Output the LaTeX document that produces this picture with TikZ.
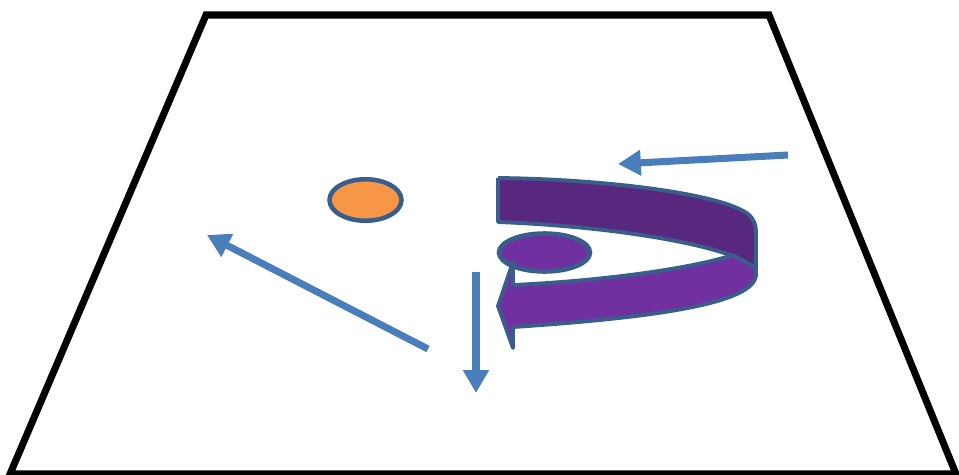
\documentclass[tikz,border=0pt]{standalone}
\usepackage{xcolor}
\usepackage{tikz}
\usetikzlibrary{positioning, arrows.meta, shapes, calc}

\definecolor{edgeblue}{RGB}{58,94,140}
\definecolor{arrowblue}{RGB}{74,126,187}
\definecolor{spotorange}{RGB}{247,150,70}
\definecolor{ribbonlight}{RGB}{112,48,160}
\definecolor{ribbondark}{RGB}{88,40,126}

\begin{document}
\begin{tikzpicture}[
        x=0.02cm, y=-0.02cm,
        spot/.style={ellipse, draw=edgeblue, line width=2.6pt, inner sep=0pt},
        move/.style={draw=arrowblue, line width=4pt, -{Triangle[length=13pt, width=14pt]}},
        ribbon/.style={draw=edgeblue, line width=2.2pt, line join=round}
    ]
    \useasboundingbox (0,0) rectangle (959,474);

    % floor plane
    \draw[line width=4pt, line join=miter] (206,15) -- (769,15) -- (956,474) -- (10,474) -- cycle;

    % spots on the floor
    \node[spot, fill=spotorange, minimum width=1.44cm, minimum height=0.83cm] (ball) at (365.5,200) {};
    \node[spot, fill=ribbonlight, minimum width=1.82cm, minimum height=0.76cm] (puck) at (544.5,252.5) {};

    % curved ribbon arrow, back part then front part
    \fill[ribbondark] (498,178) .. controls (600,179) and (720,193) .. (748,214)
        .. controls (754,219) and (756,225) .. (756,232) -- (756,272) -- (733,256)
        .. controls (690,240) and (600,226) .. (498,222) -- cycle;
    \draw[ribbon] (498,178) .. controls (600,179) and (720,193) .. (748,214)
        .. controls (754,219) and (756,225) .. (756,232) -- (756,272);
    \draw[ribbon] (733,256) .. controls (690,240) and (600,226) .. (498,222) -- (498,178);
    \draw[ribbon, fill=ribbonlight] (513,285) .. controls (600,281) and (690,269) .. (733,255)
        -- (756,268) -- (756,276) .. controls (752,300) and (680,316) .. (513,327)
        -- (513,348) -- (498,306) -- (513,262) -- cycle;

    % motion arrows
    \coordinate (inA) at (788,155);
    \coordinate (inB) at (618,164);
    \coordinate (outA) at (428,349);
    \coordinate (outB) at (207,235);
    \coordinate (downA) at (476,272);
    \coordinate (downB) at (476,393);
    \draw[move] (inA) -- (inB);
    \draw[move] (outA) -- (outB);
    \draw[move] (downA) -- (downB);
\end{tikzpicture}
\end{document}
